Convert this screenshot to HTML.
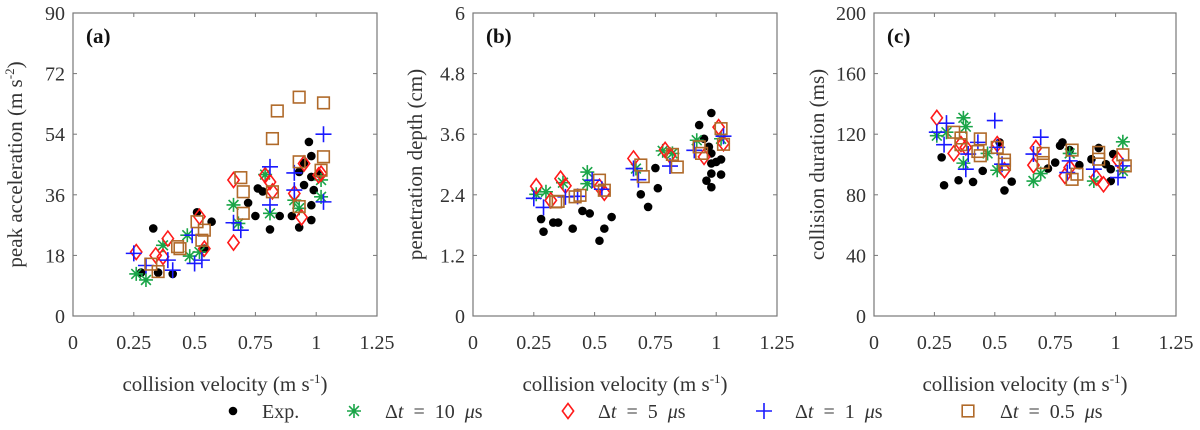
<!DOCTYPE html>
<html><head><meta charset="utf-8"><style>
html,body{margin:0;padding:0;background:#fff;}
svg{display:block;}
text{font-family:"Liberation Serif","DejaVu Serif",serif;}
</style></head><body>
<svg id="chart" width="1200" height="430" viewBox="0 0 1200 430" xmlns="http://www.w3.org/2000/svg"></svg>
<script>
// ----- shared data -----
const xTicks = [0, 0.25, 0.5, 0.75, 1, 1.25];
const xTickLabels = ["0", "0.25", "0.5", "0.75", "1", "1.25"];
const panelLetters = ["(a)", "(b)", "(c)"];
const yLabels = ["peak acceleration (m s\u207B\u00B2)", "penetration depth (cm)", "collision duration (ms)"];
const yTicksA = [0, 18, 36, 54, 72, 90];
const yTicksB = [0, 1.2, 2.4, 3.6, 4.8, 6];
const yTickLabelsB = ["0", "1.2", "2.4", "3.6", "4.8", "6"];
const yTicksC = [0, 40, 80, 120, 160, 200];
const seriesNames = ["Exp.", "\u0394t = 10 \u03BCs", "\u0394t = 5 \u03BCs", "\u0394t = 1 \u03BCs", "\u0394t = 0.5 \u03BCs"];

// ----- panel (a) -----
const aExpX = [.33,.41,.51,.57,.54,.72,.76,.78,.75,.81,.85,.90,.93,.97,.98,.95,.98,.99,.98,.98,.93,.95,1.01,.28,.35];
const aExpY = [26,12.5,30.8,28,20,33.6,37.9,37,29.7,25.7,29.7,29.7,26.3,51.7,47.5,38.9,41.3,37.4,32.9,28.5,42.8,45.5,42.3,12.9,12.9];
const aS10X = [.26,.30,.37,.47,.48,.52,.66,.68,.81,.91,.93,1.02,1.02,.79];
const aS10Y = [12.5,10.7,21,24,17.8,19,33,27.5,30.5,34.4,32,35.4,40.4,42];
const aS5X = [.26,.34,.37,.39,.52,.54,.66,.66,.79,.81,.82,.91,.94,.95,1.01,1.02];
const aS5Y = [19,18,17.6,23,29.5,20,40.4,21.8,41.8,39.8,37,36.4,29.3,45.3,41.8,42.3];
const aS1X = [.25,.30,.39,.41,.49,.50,.53,.66,.69,.81,.81,.91,.91,1.03,1.03];
const aS1Y = [18.6,15,16.6,13.6,24,15.6,16.6,27.7,25.5,44.3,33,42.5,37.4,54,33.9];
const aS05X = [.32,.35,.43,.44,.51,.54,.53,.69,.70,.70,.82,.82,.84,.93,.93,.93,1.03,1.03,1.02];
const aS05Y = [15.4,13.2,20.6,20,28,25.5,22.5,41.1,36.9,30.5,36.9,52.7,60.9,65,45.8,32.5,63.3,47.3,43.3];

// ----- panel (b) -----
const bExpX = [.28,.29,.33,.35,.41,.45,.48,.52,.54,.57,.69,.72,.75,.76,.93,.98,.95,.97,.98,.98,.98,.96,.98,1.02,1.02,1.0];
const bExpY = [1.92,1.67,1.85,1.85,1.73,2.08,2.03,1.49,1.73,1.96,2.41,2.16,2.93,2.53,3.78,4.02,3.51,3.35,3.22,3.02,2.82,2.68,2.55,3.1,2.8,3.05];
const bS10X = [.26,.30,.37,.47,.47,.67,.78,.82,.92,1.02];
const bS10Y = [2.41,2.46,2.64,2.85,2.62,2.92,3.27,3.22,3.48,3.51];
const bS5X = [.26,.32,.36,.38,.52,.54,.66,.79,.81,.95,1.01,1.03];
const bS5Y = [2.57,2.29,2.72,2.58,2.56,2.44,3.12,3.29,3.18,3.15,3.74,3.42];
const bS1X = [.25,.29,.38,.43,.49,.53,.66,.68,.81,.91,1.03];
const bS1Y = [2.33,2.15,2.36,2.37,2.69,2.51,2.92,2.70,2.97,3.28,3.56];
const bS05X = [.34,.35,.42,.44,.52,.54,.69,.70,.82,.84,.93,.94,1.02,1.03];
const bS05Y = [2.26,2.27,2.36,2.39,2.69,2.49,2.99,2.76,3.2,2.95,3.35,3.22,3.71,3.40];

// ----- panel (c) -----
const cExpX = [.28,.29,.35,.41,.45,.52,.54,.57,.72,.75,.77,.78,.81,.85,.90,.93,.96,.98,.99,.98];
const cExpY = [104.7,86.3,89.6,88.5,95.8,114.6,82.9,88.7,97.3,101.3,112.4,114.6,109.5,99.6,103.5,110.9,100.2,89.1,106.9,96.9];
const cS10X = [.26,.30,.37,.38,.37,.47,.51,.66,.69,.81,.91,1.03,1.03];
const cS10Y = [119,121.3,130.8,125,100.9,107.3,96.2,89.1,94,107.3,89.1,115,95.8];
const cS5X = [.26,.33,.36,.38,.51,.54,.66,.67,.79,.81,.92,.95,1.01];
const cS5Y = [130.8,107.3,113.5,111.3,113.5,96.2,99.6,110.9,92.5,98,91.4,86.9,102.9];
const cS1X = [.26,.30,.29,.38,.39,.43,.50,.51,.53,.66,.69,.81,.80,.91,1.01,1.03];
const cS1Y = [121.3,127.3,113.1,96.9,106.9,114.6,129,111.3,100.2,106.9,118,102.4,94.7,96.9,91.4,99.1];
const cS05X = [.33,.36,.36,.44,.43,.44,.51,.54,.54,.70,.70,.82,.84,.82,.93,.93,1.03,1.04];
const cS05Y = [121.3,117.5,113.1,116.9,108.6,105.8,111.3,102.9,100.2,107.3,101.3,109.5,93.6,90.2,108,103.5,106.4,99.1];

const NS = "http://www.w3.org/2000/svg";
const svg = document.getElementById("chart");
const SERIF = '"Liberation Serif", "DejaVu Serif", serif';
function mk(tag, attrs, parent) {
  const e = document.createElementNS(NS, tag);
  for (const k in attrs) e.setAttribute(k, attrs[k]);
  if (tag === "text") e.setAttribute("font-family", SERIF);
  (parent || svg).appendChild(e);
  return e;
}
const COLORS = ["#000", "#1aa548", "#ff1a1a", "#1a1aff", "#b06a2a"];

function marker(type, cx, cy, g) {
  let e;
  if (type === 0) {
    e = mk("circle", {cx: cx, cy: cy, r: 4.3, fill: "#000"}, g);
  } else if (type === 1) {
    const s = 7;
    e = mk("path", {d: `M${cx-s},${cy}H${cx+s}M${cx},${cy-s}V${cy+s}M${cx-s*0.7},${cy-s*0.7}L${cx+s*0.7},${cy+s*0.7}M${cx-s*0.7},${cy+s*0.7}L${cx+s*0.7},${cy-s*0.7}`, stroke: COLORS[1], "stroke-width": 1.6, fill: "none"}, g);
  } else if (type === 2) {
    const s = 7.5;
    e = mk("path", {d: `M${cx},${cy-s}L${cx+s*0.75},${cy}L${cx},${cy+s}L${cx-s*0.75},${cy}Z`, stroke: COLORS[2], "stroke-width": 1.6, fill: "none"}, g);
  } else if (type === 3) {
    const s = 8;
    e = mk("path", {d: `M${cx-s},${cy}H${cx+s}M${cx},${cy-s}V${cy+s}`, stroke: COLORS[3], "stroke-width": 1.6, fill: "none"}, g);
  } else {
    const s = 5.8;
    e = mk("rect", {x: cx-s, y: cy-s, width: 2*s, height: 2*s, stroke: COLORS[4], "stroke-width": 1.6, fill: "none"}, g);
  }
  return e;
}

const panels = [
  {left: 73, right: 377, yT: yTicksA, yTL: yTicksA.map(String), ymax: 90, lab: 22,
   series: [[aExpX,aExpY],[aS10X,aS10Y],[aS5X,aS5Y],[aS1X,aS1Y],[aS05X,aS05Y]]},
  {left: 473, right: 777, yT: yTicksB, yTL: yTickLabelsB, ymax: 6, lab: 422,
   series: [[bExpX,bExpY],[bS10X,bS10Y],[bS5X,bS5Y],[bS1X,bS1Y],[bS05X,bS05Y]]},
  {left: 874, right: 1176, yT: yTicksC, yTL: yTicksC.map(String), ymax: 200, lab: 824,
   series: [[cExpX,cExpY],[cS10X,cS10Y],[cS5X,cS5Y],[cS1X,cS1Y],[cS05X,cS05Y]]}
];
const TOP = 13, BOT = 316;
const seriesKeys = ["exp", "dt10", "dt5", "dt1", "dt05"];

panels.forEach((p, pi) => {
  const g = mk("g", {});
  
  
  const xs = v => p.left + v / 1.25 * (p.right - p.left);
  const ys = v => BOT - v / p.ymax * (BOT - TOP);
  const box = mk("rect", {x: p.left, y: TOP, width: p.right - p.left, height: BOT - TOP, fill: "#fff", stroke: "#777", "stroke-width": 1.2}, g);
  
  
  xTicks.forEach((t, i) => {
    const x = xs(t);
    mk("line", {x1: x, x2: x, y1: BOT, y2: BOT - 4, stroke: "#777"}, g);
    mk("line", {x1: x, x2: x, y1: TOP, y2: TOP + 4, stroke: "#777"}, g);
    const tl = mk("text", {x: x, y: 349, "text-anchor": "middle", "font-size": 20, fill: "#333"}, g);
    tl.textContent = xTickLabels[i];
    
    
  });
  p.yT.forEach((t, i) => {
    const y = ys(t);
    mk("line", {x1: p.left, x2: p.left + 4, y1: y, y2: y, stroke: "#777"}, g);
    mk("line", {x1: p.right, x2: p.right - 4, y1: y, y2: y, stroke: "#777"}, g);
    const tl = mk("text", {x: p.left - 8, y: y + 7, "text-anchor": "end", "font-size": 20, fill: "#333"}, g);
    tl.textContent = p.yTL[i];
    
    
  });
  const xl = mk("text", {x: (p.left + p.right) / 2, y: 391, "text-anchor": "middle", "font-size": 21, fill: "#333"}, g);
  xl.innerHTML = 'collision velocity (m s<tspan dy="-8" font-size="13">-1</tspan><tspan dy="8">)</tspan>';
  
  
  const yl = mk("text", {x: 0, y: 0, "text-anchor": "middle", "font-size": 21, fill: "#333", transform: `translate(${p.lab},${(TOP + BOT) / 2}) rotate(-90)`}, g);
  if (pi === 0) yl.innerHTML = 'peak acceleration (m s<tspan dy="-8" font-size="13">-2</tspan><tspan dy="8">)</tspan>';
  else yl.textContent = yLabels[pi];
  
  
  const pl = mk("text", {x: p.left + 13, y: TOP + 30, "font-size": 21, "font-weight": "bold", fill: "#111"}, g);
  pl.textContent = panelLetters[pi];
  
  
  p.series.forEach((s, si) => {
    const sg = mk("g", {}, g);
    
    
    s[0].forEach((xv, k) => {
      const m = marker(si, xs(xv), ys(s[1][k]), sg);
      
      
    });
  });
});

// legend
const legendMarkerX = [233, 354, 568, 764, 968];
const legendTextX = [262, 385, 598, 795, 1000];
const lg = mk("g", {});


seriesNames.forEach((n, i) => {
  const m = marker(i, legendMarkerX[i], 411, lg);
  
  
  const t = mk("text", {x: legendTextX[i], y: 418, "font-size": 20, fill: "#333", "word-spacing": 5}, lg);
  if (i === 0) t.textContent = n;
  else t.innerHTML = n.replace("t", '<tspan font-style="italic">t</tspan>').replace("\u03BC", '<tspan font-style="italic">\u03BC</tspan>');
  
  
});
</script>
</body></html>
